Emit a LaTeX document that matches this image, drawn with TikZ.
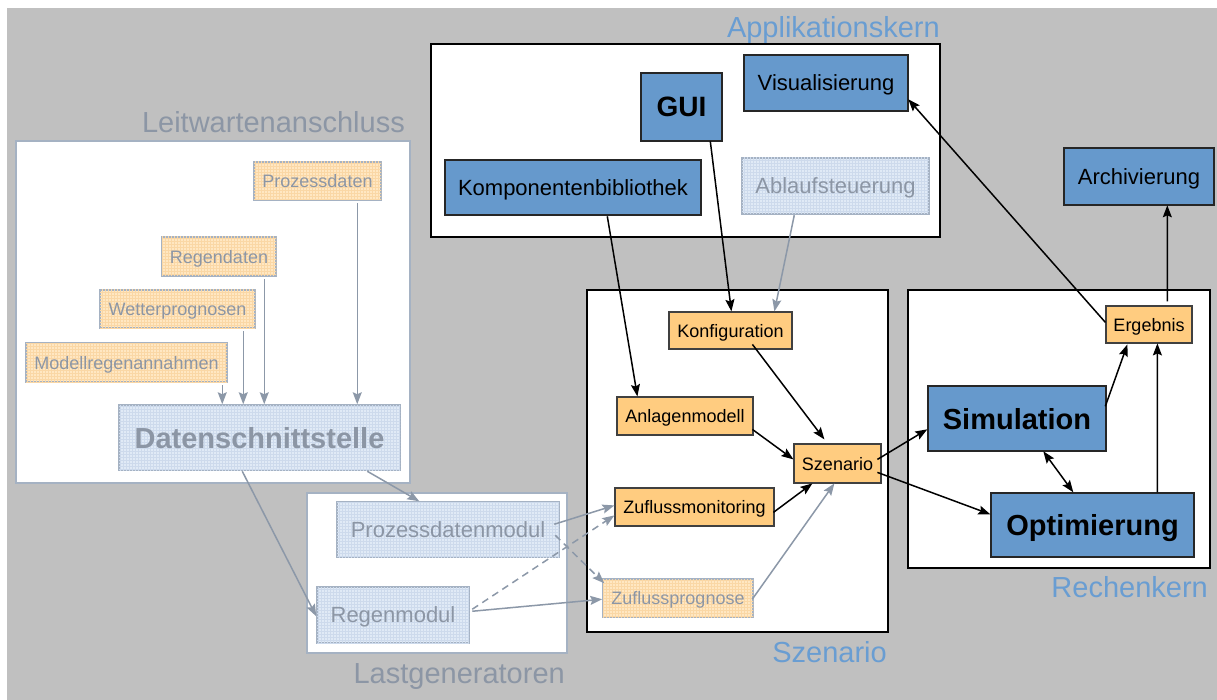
\documentclass[tikz,border=0pt]{standalone}
\usepackage{fontspec}
\setmainfont{Liberation Sans}
\usetikzlibrary{arrows.meta,patterns}
\definecolor{bgc}{RGB}{192,192,192}
\definecolor{boxblue}{RGB}{102,153,204}
\definecolor{boxorange}{RGB}{255,204,128}
\definecolor{titleblue}{RGB}{105,157,210}
\definecolor{grayline}{RGB}{140,152,168}
\definecolor{graytext}{RGB}{140,150,165}
\definecolor{fadeblue}{RGB}{224,234,246}
\definecolor{fadegrid}{RGB}{205,218,236}
\definecolor{fadeorange}{RGB}{255,231,194}
\definecolor{fadeogrid}{RGB}{250,215,165}
\definecolor{fadeborder}{RGB}{165,178,195}
\tikzset{
  fs/.style={font=\fontsize{#1}{#1}\selectfont},
  container/.style={draw=black, line width=2pt, fill=white},
  gcontainer/.style={draw=fadeborder, line width=2pt, fill=white},
  bluebox/.style={draw=black!85, line width=1.4pt, fill=boxblue, inner sep=0pt, text=black, text depth=0pt},
  orbox/.style={draw=black!75, line width=1.2pt, fill=boxorange, inner sep=0pt, text=black, fs=18, text depth=0pt},
  fbbox/.style={draw=fadeborder, line width=1.5pt, fill=fadeblue, inner sep=0pt, text=graytext, text depth=0pt,
    postaction={pattern=grid, pattern color=fadegrid}},
  fobox/.style={draw=fadeborder, line width=1.5pt, fill=fadeorange, inner sep=0pt, text=graytext, fs=18, text depth=0pt,
    postaction={pattern=grid, pattern color=fadeogrid}},
  btitle/.style={anchor=base east, text=titleblue, fs=29, inner sep=0pt},
  gtitle/.style={anchor=base east, text=graytext, fs=29, inner sep=0pt},
  barr/.style={draw=black, line width=1.5pt, -{Stealth[length=12pt,width=9pt,inset=2pt]}},
  garr/.style={draw=grayline, line width=1.5pt, -{Stealth[length=12pt,width=9pt,inset=2pt]}},
  gdarr/.style={garr, dash pattern=on 7pt off 5pt},
  box/.style args={#1/#2}{minimum width=#1pt, minimum height=#2pt}
}
\begin{document}
\begin{tikzpicture}[x=1pt,y=-1pt]
\useasboundingbox (0,0) rectangle (1217,700);
\fill[white] (0,0) rectangle (1217,700);
\fill[bgc] (7,8) rectangle (1217,700);

% containers
\draw[container] (431,44) rectangle (940,237);
\draw[gcontainer] (16,141) rectangle (410,483);
\draw[gcontainer] (307,493) rectangle (567,653);
\draw[container] (587,290) rectangle (888,632);
\draw[container] (908,290) rectangle (1210,568);

% titles
\node[btitle] (tapp) at (940,38) {Applikationskern};
\node[gtitle] (tleit) at (405,133) {Leitwartenanschluss};
\node[gtitle] (tlast) at (565,683) {Lastgeneratoren};
\node[btitle] (tszen) at (887,662) {Szenario};
\node[btitle] (trech) at (1208,597) {Rechenkern};

% Applikationskern
\node[bluebox, box=81/68, font=\bfseries\fontsize{28}{28}\selectfont] (gui) at (681.5,107) {GUI};
\node[bluebox, box=164/56, fs=22] (vis) at (826,83) {Visualisierung};
\node[bluebox, box=256/55, fs=22] (komp) at (573,187.5) {Komponentenbibliothek};
\node[fbbox, box=187/56, fs=22] (ablauf) at (835.5,186) {Ablaufsteuerung};

% Leitwartenanschluss
\node[fobox, box=127/38] (pdat) at (317.5,181) {Prozessdaten};
\node[fobox, box=114/39] (rdat) at (219,256.5) {Regendaten};
\node[fobox, box=155/38] (wetter) at (177.5,309) {Wetterprognosen};
\node[fobox, box=201/39] (modell) at (126.5,362.5) {Modellregenannahmen};
\node[fbbox, box=281/65, font=\bfseries\fontsize{29}{29}\selectfont] (ds) at (259.5,437.5) {Datenschnittstelle};

% Lastgeneratoren
\node[fbbox, box=222/55, fs=22] (pdm) at (448,529.5) {Prozessdatenmodul};
\node[fbbox, box=152/56, fs=22] (regm) at (393,615) {Regenmodul};

% Szenario
\node[orbox, box=123/37] (konf) at (730.5,330.5) {Konfiguration};
\node[orbox, box=136/38] (anl) at (685,416) {Anlagenmodell};
\node[orbox, box=159/38] (zfm) at (694.5,507) {Zuflussmonitoring};
\node[fobox, box=150/38] (zfp) at (678,598) {Zuflussprognose};
\node[orbox, box=87/39] (szen) at (837.5,463.5) {Szenario};

% Rechenkern
\node[bluebox, box=178/65, font=\bfseries\fontsize{29}{29}\selectfont] (sim) at (1017,418.5) {Simulation};
\node[bluebox, box=203/64, font=\bfseries\fontsize{29}{29}\selectfont] (opt) at (1092.5,525) {Optimierung};
\node[orbox, box=86/37] (erg) at (1149,324.5) {Ergebnis};
\node[bluebox, box=150/57, fs=22] (arch) at (1139,176.5) {Archivierung};

% Leitwarte arrows
\draw[garr] ([shift={(197,43)}]modell.north west) -- ([shift={(104,0)}]ds.north west);
\draw[garr] ([shift={(144,42)}]wetter.north west) -- ([shift={(125,0)}]ds.north west);
\draw[garr] ([shift={(103,43)}]rdat.north west) -- ([shift={(146,0)}]ds.north west);
\draw[garr] ([shift={(104,42)}]pdat.north west) -- ([shift={(239,0)}]ds.north west);
\draw[garr] ([shift={(124,67)}]ds.north west) -- ([shift={(0,30)}]regm.north west);
\draw[garr] ([shift={(249,67)}]ds.north west) -- ([shift={(83,0)}]pdm.north west);

% Lastgeneratoren arrows
\draw[garr] ([shift={(218,23)}]pdm.north west) -- ([shift={(0,18)}]zfm.north west);
\draw[gdarr] ([shift={(219,34)}]pdm.north west) -- ([shift={(2,5)}]zfp.north west);
\draw[gdarr] ([shift={(156,23)}]regm.north west) -- ([shift={(0,28)}]zfm.north west);
\draw[garr] ([shift={(156,25)}]regm.north west) -- ([shift={(0,21)}]zfp.north west);

% Applikationskern -> Szenario
\draw[barr] ([shift={(163,57)}]komp.north west) -- ([shift={(21,0)}]anl.north west);
\draw[barr] ([shift={(70,69)}]gui.north west) -- ([shift={(63,0)}]konf.north west);
\draw[garr] ([shift={(53,58)}]ablauf.north west) -- ([shift={(106,0)}]konf.north west);

% Szenario internal
\draw[barr] ([shift={(84,33)}]konf.north west) -- ([shift={(31,-4)}]szen.north west);
\draw[barr] ([shift={(136,33)}]anl.north west) -- ([shift={(0,16)}]szen.north west);
\draw[barr] ([shift={(159,25)}]zfm.north west) -- ([shift={(19,40)}]szen.north west);
\draw[garr] ([shift={(150,21)}]zfp.north west) -- ([shift={(41,40)}]szen.north west);

% Szenario -> Rechenkern
\draw[barr] ([shift={(84,16)}]szen.north west) -- ([shift={(0,44)}]sim.north west);
\draw[barr] ([shift={(84,29)}]szen.north west) -- ([shift={(0,22)}]opt.north west);
\draw[draw=black, line width=1.5pt, {Stealth[length=12pt,width=9pt,inset=2pt]}-{Stealth[length=12pt,width=9pt,inset=2pt]}] ([shift={(116,66)}]sim.north west) -- ([shift={(83,0)}]opt.north west);
\draw[barr] ([shift={(178,21)}]sim.north west) -- ([shift={(22,39)}]erg.north west);
\draw[barr] ([shift={(167,0)}]opt.north west) -- ([shift={(52,38)}]erg.north west);
\draw[barr] ([shift={(62,-4)}]erg.north west) -- ([shift={(104,58)}]arch.north west);
\draw[barr] ([shift={(0,17)}]erg.north west) -- ([shift={(165,45)}]vis.north west);
\end{tikzpicture}
\end{document}
